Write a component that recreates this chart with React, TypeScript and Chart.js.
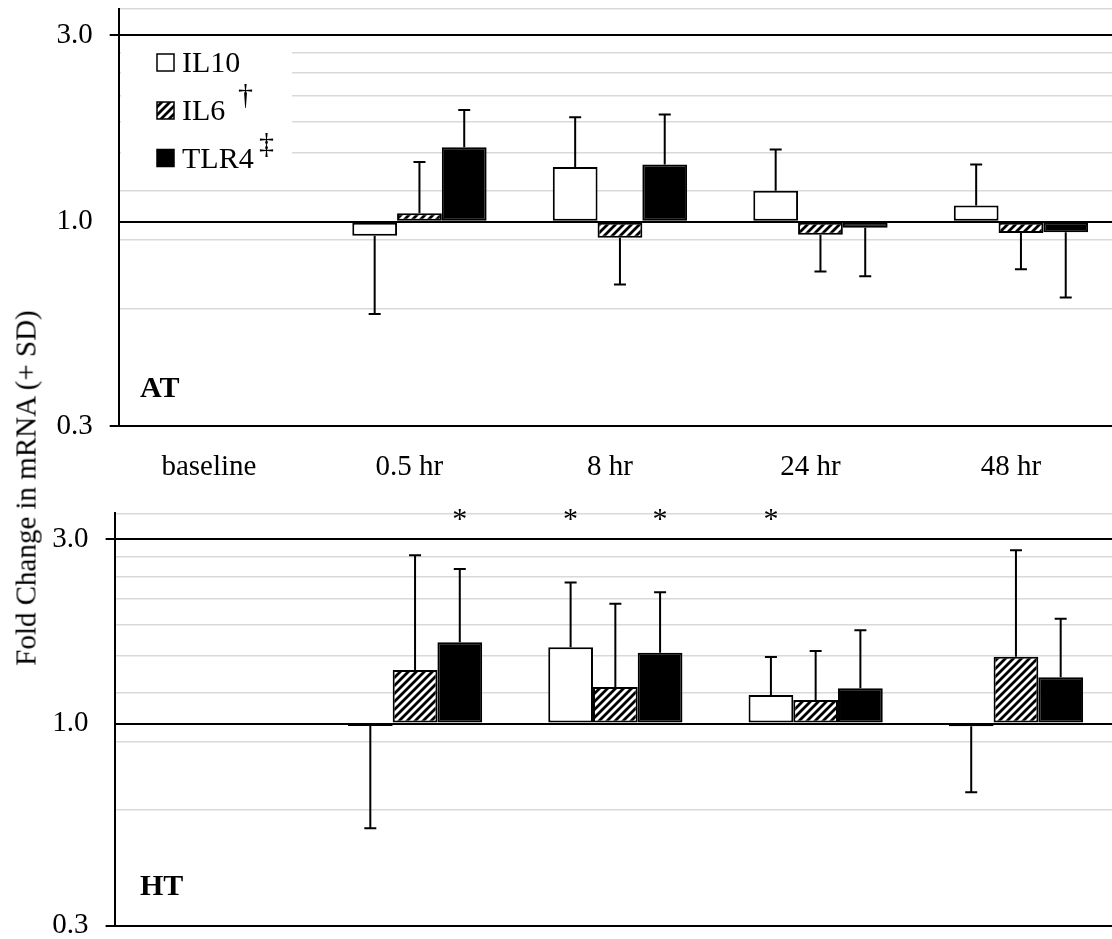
import React, { useEffect, useRef } from 'react';
import { Chart, registerables } from 'chart.js';

Chart.register(...registerables);

// ---------- data ----------
const categories = ['baseline', '0.5 hr', '8 hr', '24 hr', '48 hr'];
const seriesNames = ['IL10', 'IL6', 'TLR4'];
const seriesMarks = ['', '†', '‡'];
const panelNames = ['AT', 'HT'];
const yGridValues = [0.3, 0.6, 0.9, 1.0, 1.2, 1.5, 1.8, 2.1, 2.4, 2.7, 3.0, 3.5];
const yLabelValues = [0.3, 1.0, 3.0];
const yMajorValues = [0.3, 3.0];
const yDarkValues = [0.3, 1.0, 3.0];
const yMin = 0.3;
const yMax = 3.5;
const baseValue = 1.0;
const yTitle = 'Fold Change in mRNA (+ SD)';

// AT panel (fold change, SD)
const atIL10 = [1.0, 0.92, 1.38, 1.2, 1.1];
const atIL6 = [1.0, 1.05, 0.91, 0.925, 0.935];
const atTLR4 = [1.0, 1.55, 1.4, 0.965, 0.94];
const atIL10SD = [0, 0.34, 0.47, 0.33, 0.3];
const atIL6SD = [0, 0.37, 0.22, 0.18, 0.18];
const atTLR4SD = [0, 0.38, 0.48, 0.24, 0.3];

// HT panel (fold change, SD, significance)
const htIL10 = [1.0, 0.986, 1.576, 1.186, 0.984];
const htIL6 = [1.0, 1.376, 1.243, 1.151, 1.49];
const htTLR4 = [1.0, 1.623, 1.526, 1.235, 1.318];
const htIL10SD = [0, 0.45, 0.74, 0.3, 0.32];
const htIL6SD = [0, 1.35, 0.8, 0.39, 1.32];
const htTLR4SD = [0, 0.89, 0.66, 0.51, 0.55];
const htIL10Sig = [false, false, true, true, false];
const htIL6Sig = [false, false, false, false, false];
const htTLR4Sig = [false, true, true, false, false];

// ---------- styling ----------
const FONT = '"Liberation Serif", "Times New Roman", serif';
const near = (a: any, list: number[]) =>
  typeof a === 'number' && list.some((v) => Math.abs(v - a) < 1e-6);

function makeHatch(): any {
  const c = document.createElement('canvas');
  c.width = 8;
  c.height = 8;
  const g = c.getContext('2d')!;
  g.fillStyle = '#fff';
  g.fillRect(0, 0, 8, 8);
  g.strokeStyle = '#000';
  g.lineWidth = 2.8;
  g.beginPath();
  g.moveTo(-2, 10);
  g.lineTo(10, -2);
  g.moveTo(-2, 2);
  g.lineTo(2, -2);
  g.moveTo(6, 10);
  g.lineTo(10, 6);
  g.stroke();
  return g.createPattern(c, 'repeat');
}

const panelPlugin = {
  id: 'panelDecor',
  afterDatasetsDraw(chart: any, _args: any, opts: any) {
    const { ctx } = chart;
    const y = chart.scales.y;
    ctx.save();
    chart.data.datasets.forEach((ds: any, i: number) => {
      const meta = chart.getDatasetMeta(i);
      meta.data.forEach((bar: any, j: number) => {
        const v = ds.data[j];
        const s = ds.sd ? ds.sd[j] : 0;
        if (s > 0) {
          const tip = v >= baseValue ? v + s : v - s;
          const y0 = y.getPixelForValue(v);
          const y1 = y.getPixelForValue(tip);
          ctx.strokeStyle = '#000';
          ctx.lineWidth = 2;
          ctx.beginPath();
          ctx.moveTo(bar.x, y0);
          ctx.lineTo(bar.x, y1);
          ctx.moveTo(bar.x - 6, y1);
          ctx.lineTo(bar.x + 6, y1);
          ctx.stroke();
        }
        if (ds.sig && ds.sig[j]) {
          ctx.fillStyle = '#000';
          ctx.font = `30px ${FONT}`;
          ctx.textAlign = 'center';
          ctx.textBaseline = 'alphabetic';
          ctx.fillText('*', bar.x, chart.chartArea.top + 15);
        }
      });
    });
    // panel label
    ctx.fillStyle = '#000';
    ctx.font = `bold 30px ${FONT}`;
    ctx.textAlign = 'left';
    ctx.textBaseline = 'alphabetic';
    ctx.fillText(opts.label, opts.labelX, opts.labelY);
    // legend
    if (opts.legend) {
      const L = opts.legend;
      ctx.fillStyle = '#fff';
      ctx.fillRect(L.x0, L.y0, L.w, L.h);
      chart.data.datasets.forEach((ds: any, k: number) => {
        const cy = L.rowY[k];
        ctx.fillStyle = ds.backgroundColor;
        ctx.fillRect(L.swX, cy - L.sw / 2, L.sw, L.sw);
        ctx.strokeStyle = '#000';
        ctx.lineWidth = 1.5;
        ctx.strokeRect(L.swX, cy - L.sw / 2, L.sw, L.sw);
        ctx.fillStyle = '#000';
        ctx.font = `30px ${FONT}`;
        ctx.textAlign = 'left';
        ctx.fillText(ds.label, L.textX, L.baseY[k]);
        if (seriesMarks[k]) {
          ctx.fillText(seriesMarks[k], L.markX[k], L.markY[k]);
        }
      });
    }
    ctx.restore();
  },
};

function makeConfig(p: any) {
  const datasets = [
    { label: seriesNames[0], data: p.il10, sd: p.il10sd, sig: p.il10sig, backgroundColor: '#fff' },
    { label: seriesNames[1], data: p.il6, sd: p.il6sd, sig: p.il6sig, backgroundColor: p.hatch },
    { label: seriesNames[2], data: p.tlr4, sd: p.tlr4sd, sig: p.tlr4sig, backgroundColor: '#000' },
  ].map((d) => ({
    ...d,
    borderColor: '#000',
    borderWidth: 2,
    borderSkipped: false,
    base: baseValue,
    categoryPercentage: 0.67,
    barPercentage: 1.0,
  }));
  return {
    type: 'bar',
    data: { labels: categories, datasets },
    plugins: [panelPlugin],
    options: {
      responsive: false,
      animation: false,
      devicePixelRatio: 1,
      layout: { padding: { top: p.padTop, right: p.padRight, left: 0, bottom: 0 } },
      plugins: {
        legend: { display: false },
        tooltip: { enabled: false },
        panelDecor: { label: p.label, labelX: p.labelX, labelY: p.labelY, legend: p.legend },
      },
      scales: {
        x: {
          type: 'category',
          offset: true,
          grid: { display: false, drawTicks: false },
          border: { display: true, color: '#000', width: 2 },
          ticks: {
            display: p.showX,
            color: '#000',
            font: { family: FONT, size: 29 },
            padding: 24,
            labelOffset: -10,
            maxRotation: 0,
            autoSkip: false,
          },
          afterFit: (s: any) => {
            s.height = p.xHeight;
            s.paddingLeft = 0;
            s.paddingRight = 0;
            s.paddingTop = 0;
            s.paddingBottom = 0;
          },
        },
        y: {
          type: 'logarithmic',
          min: yMin,
          max: yMax,
          afterBuildTicks: (scale: any) => {
            scale.ticks = yGridValues.map((v) => ({ value: v }));
          },
          afterFit: (s: any) => {
            s.width = p.yWidth;
            s.paddingTop = 0;
            s.paddingBottom = 0;
            s.paddingLeft = 0;
            s.paddingRight = 0;
          },
          ticks: {
            autoSkip: false,
            padding: 17,
            color: '#000',
            font: { family: FONT, size: 29 },
            callback: (v: any) => (near(Number(v), yLabelValues) ? Number(v).toFixed(1) : ''),
          },
          grid: {
            color: (c: any) => (c.tick && !near(c.tick.value, yDarkValues) ? '#d9d9d9' : '#000'),
            lineWidth: (c: any) => (c.tick && !near(c.tick.value, yDarkValues) ? 1.5 : 2),
            tickColor: (c: any) => (c.tick && near(c.tick.value, yMajorValues) ? '#000' : 'rgba(0,0,0,0)'),
            tickWidth: 2,
            tickLength: 9,
            drawTicks: true,
          },
          border: { display: true, color: '#000', width: 2 },
        },
      },
    },
  } as any;
}

export default function App() {
  const topRef = useRef<HTMLCanvasElement>(null);
  const botRef = useRef<HTMLCanvasElement>(null);

  useEffect(() => {
    const hatch = makeHatch();
    const top = new Chart(
      topRef.current!,
      makeConfig({
        il10: atIL10, il6: atIL6, tlr4: atTLR4,
        il10sd: atIL10SD, il6sd: atIL6SD, tlr4sd: atTLR4SD,
        hatch,
        padTop: 9, padRight: 8.8, yWidth: 118.7, xHeight: 54, showX: true,
        label: panelNames[0], labelX: 140, labelY: 397,
        legend: {
          x0: 121, y0: 38, w: 171, h: 147,
          swX: 157, sw: 17, textX: 182,
          rowY: [62.5, 110.5, 158],
          baseY: [72, 120, 168],
          markX: [0, 238, 259],
          markY: [0, 104, 153],
        },
      })
    );
    const bot = new Chart(
      botRef.current!,
      makeConfig({
        il10: htIL10, il6: htIL6, tlr4: htTLR4,
        il10sd: htIL10SD, il6sd: htIL6SD, tlr4sd: htTLR4SD,
        il10sig: htIL10Sig, il6sig: htIL6Sig, tlr4sig: htTLR4Sig,
        hatch,
        padTop: 33.3, padRight: 13.9, yWidth: 114.6, xHeight: 24.3, showX: false,
        label: panelNames[1], labelX: 140, labelY: 415,
        legend: null,
      })
    );
    return () => {
      top.destroy();
      bot.destroy();
    };
  }, []);

  return (
    <div
      style={{
        position: 'fixed', left: 0, top: 0, width: 1112, height: 939,
        overflow: 'hidden', background: '#fff',
      }}
    >
      <canvas
        ref={topRef}
        width={1130}
        height={480}
        style={{ position: 'absolute', left: 0, top: 0, width: 1130, height: 480 }}
      />
      <canvas
        ref={botRef}
        width={1130}
        height={470}
        style={{ position: 'absolute', left: 0, top: 480, width: 1130, height: 470 }}
      />
      <div
        style={{
          position: 'absolute', left: 25.5, top: 487.5,
          transform: 'translate(-50%, -50%) rotate(-90deg)',
          whiteSpace: 'nowrap', font: `29px ${FONT}`, color: '#000',
        }}
      >
        {yTitle}
      </div>
    </div>
  );
}
